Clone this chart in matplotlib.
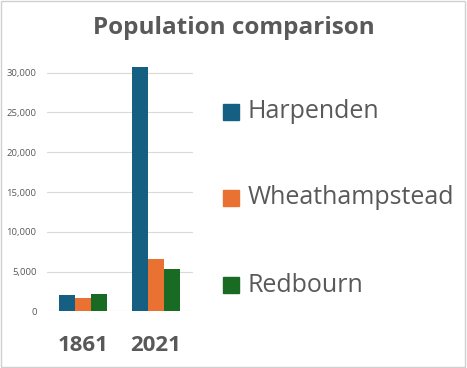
import numpy as np
import matplotlib.pyplot as plt
from matplotlib.patches import Rectangle
from matplotlib.ticker import FuncFormatter

years = ["1861", "2021"]
towns = ["Harpenden", "Wheathampstead", "Redbourn"]
harpenden = [2050, 30700]
wheathampstead = [1710, 6540]
redbourn = [2140, 5360]

colors = ["#156082", "#E97132", "#196B24"]
grey = "#595959"

fig = plt.figure(figsize=(4.67, 3.68), dpi=100)
ax = fig.add_axes([0.1006, 0.154, 0.3126, 0.670])

x = np.arange(len(years))
w = 0.223
series = [harpenden, wheathampstead, redbourn]
for i, (vals, name, c) in enumerate(zip(series, towns, colors)):
    ax.bar(x + (i - 1) * w, vals, w, color=c, label=name, zorder=3)

ax.set_xlim(-0.493, 1.507)
ax.set_ylim(0, 31000)
ax.set_yticks(np.arange(0, 30001, 5000))
ax.yaxis.set_major_formatter(FuncFormatter(lambda v, p: f"{int(v):,}"))
ax.set_xticks(x)
ax.set_xticklabels(years, fontsize=16, fontweight="bold", color=grey,
                   family="Open Sans")
for lab in ax.get_yticklabels():
    lab.set_family("Open Sans")
ax.tick_params(axis="x", length=0, pad=17)
ax.tick_params(axis="y", length=0, labelsize=6.8, labelcolor=grey, pad=7.5)
ax.grid(axis="y", color="#D9D9D9", linewidth=0.8, zorder=0)
for s in ax.spines.values():
    s.set_visible(False)

fig.text(0.5, 1 - 28 / 368, "Population comparison", ha="center", va="center",
         fontsize=17.5, fontweight="bold", color=grey, family="Open Sans")

# legend, laid out by hand
leg_y = [112, 198, 285]
for name, c, yp in zip(towns, colors, leg_y):
    fy = 1 - yp / 368
    fig.patches.append(Rectangle((223 / 467, fy - 8 / 368), 16 / 467, 16 / 368,
                                 transform=fig.transFigure, color=c))
    fig.text(248 / 467, fy, name, ha="left", va="center", fontsize=18,
             color=grey, family="Open Sans")

fig.patches.append(Rectangle((0.002, 0.004), 0.994, 0.992, transform=fig.transFigure,
                             fill=False, edgecolor="#D0D0D0", linewidth=1))

fig.savefig("out.png", dpi=100)
